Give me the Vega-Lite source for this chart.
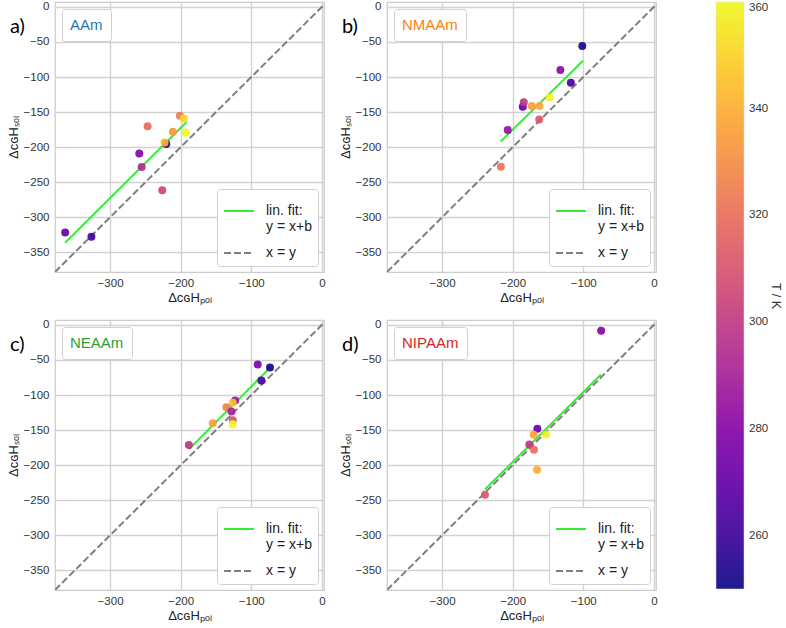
{
  "$schema": "https://vega.github.io/schema/vega-lite/v6.json",
  "background": "white",
  "padding": {"left": 6, "top": 0, "right": 0, "bottom": 0},
  "datasets": {
    "pts": [
      {"panel": "a", "poly": "AAm", "X": -363.6, "Y": -321.5, "T": 272},
      {"panel": "a", "poly": "AAm", "X": -326.4, "Y": -327.6, "T": 261},
      {"panel": "a", "poly": "AAm", "X": -246.8, "Y": -170.0, "T": 318},
      {"panel": "a", "poly": "AAm", "X": -258.6, "Y": -208.9, "T": 280},
      {"panel": "a", "poly": "AAm", "X": -255.3, "Y": -228.4, "T": 294},
      {"panel": "a", "poly": "AAm", "X": -226.1, "Y": -261.6, "T": 305},
      {"panel": "a", "poly": "AAm", "X": -220.4, "Y": -195.6, "T": 255},
      {"panel": "a", "poly": "AAm", "X": -222.8, "Y": -193.3, "T": 342},
      {"panel": "a", "poly": "AAm", "X": -211.0, "Y": -178.0, "T": 333},
      {"panel": "a", "poly": "AAm", "X": -201.1, "Y": -155.3, "T": 324},
      {"panel": "a", "poly": "AAm", "X": -195.5, "Y": -159.0, "T": 350},
      {"panel": "a", "poly": "AAm", "X": -192.7, "Y": -179.0, "T": 360},
      {"panel": "b", "poly": "NMAAm", "X": -101.4, "Y": -55.8, "T": 252},
      {"panel": "b", "poly": "NMAAm", "X": -132.4, "Y": -89.9, "T": 282},
      {"panel": "b", "poly": "NMAAm", "X": -117.6, "Y": -108.3, "T": 263},
      {"panel": "b", "poly": "NMAAm", "X": -147.6, "Y": -129.1, "T": 358},
      {"panel": "b", "poly": "NMAAm", "X": -161.9, "Y": -141.4, "T": 338},
      {"panel": "b", "poly": "NMAAm", "X": -172.9, "Y": -141.4, "T": 335},
      {"panel": "b", "poly": "NMAAm", "X": -185.7, "Y": -142.4, "T": 272},
      {"panel": "b", "poly": "NMAAm", "X": -184.3, "Y": -135.8, "T": 300},
      {"panel": "b", "poly": "NMAAm", "X": -162.4, "Y": -160.4, "T": 312},
      {"panel": "b", "poly": "NMAAm", "X": -207.1, "Y": -175.5, "T": 285},
      {"panel": "b", "poly": "NMAAm", "X": -216.7, "Y": -228.0, "T": 322},
      {"panel": "c", "poly": "NEAAm", "X": -90.9, "Y": -56.5, "T": 277},
      {"panel": "c", "poly": "NEAAm", "X": -73.5, "Y": -60.8, "T": 252},
      {"panel": "c", "poly": "NEAAm", "X": -85.7, "Y": -79.3, "T": 262},
      {"panel": "c", "poly": "NEAAm", "X": -122.9, "Y": -107.8, "T": 285},
      {"panel": "c", "poly": "NEAAm", "X": -126.2, "Y": -111.1, "T": 345},
      {"panel": "c", "poly": "NEAAm", "X": -135.2, "Y": -117.3, "T": 325},
      {"panel": "c", "poly": "NEAAm", "X": -128.1, "Y": -123.5, "T": 290},
      {"panel": "c", "poly": "NEAAm", "X": -126.2, "Y": -135.8, "T": 310},
      {"panel": "c", "poly": "NEAAm", "X": -126.2, "Y": -141.5, "T": 360},
      {"panel": "c", "poly": "NEAAm", "X": -154.5, "Y": -140.1, "T": 335},
      {"panel": "c", "poly": "NEAAm", "X": -188.4, "Y": -171.4, "T": 298},
      {"panel": "d", "poly": "NIPAAm", "X": -74.7, "Y": -8.5, "T": 280},
      {"panel": "d", "poly": "NIPAAm", "X": -165.0, "Y": -148.1, "T": 272},
      {"panel": "d", "poly": "NIPAAm", "X": -152.6, "Y": -156.2, "T": 358},
      {"panel": "d", "poly": "NIPAAm", "X": -170.2, "Y": -156.7, "T": 338},
      {"panel": "d", "poly": "NIPAAm", "X": -176.4, "Y": -170.5, "T": 298},
      {"panel": "d", "poly": "NIPAAm", "X": -169.8, "Y": -178.0, "T": 320},
      {"panel": "d", "poly": "NIPAAm", "X": -165.5, "Y": -206.5, "T": 340},
      {"panel": "d", "poly": "NIPAAm", "X": -239.2, "Y": -242.2, "T": 312}
    ],
    "lines": [
      {"panel": "a", "series": "x = y", "X": -378, "Y": -378},
      {"panel": "a", "series": "x = y", "X": 7, "Y": 7},
      {"panel": "a", "series": "lin. fit:|y = x+b", "X": -363.6, "Y": -336.2},
      {"panel": "a", "series": "lin. fit:|y = x+b", "X": -191.7, "Y": -164.3},
      {"panel": "b", "series": "x = y", "X": -378, "Y": -378},
      {"panel": "b", "series": "x = y", "X": 7, "Y": 7},
      {"panel": "b", "series": "lin. fit:|y = x+b", "X": -217.1, "Y": -192.0},
      {"panel": "b", "series": "lin. fit:|y = x+b", "X": -100.5, "Y": -77.0},
      {"panel": "c", "series": "x = y", "X": -378, "Y": -378},
      {"panel": "c", "series": "x = y", "X": 7, "Y": 7},
      {"panel": "c", "series": "lin. fit:|y = x+b", "X": -188.4, "Y": -177.5},
      {"panel": "c", "series": "lin. fit:|y = x+b", "X": -73.5, "Y": -61.0},
      {"panel": "d", "series": "x = y", "X": -378, "Y": -378},
      {"panel": "d", "series": "x = y", "X": 7, "Y": 7},
      {"panel": "d", "series": "lin. fit:|y = x+b", "X": -239.2, "Y": -234.5},
      {"panel": "d", "series": "lin. fit:|y = x+b", "X": -75.1, "Y": -71.0}
    ]
  },
  "config": {
    "font": "Liberation Sans",
    "view": {"stroke": "#cccccc", "strokeWidth": 1.25},
    "axis": {
      "grid": true, "gridColor": "#d2d2d2", "gridWidth": 1.4,
      "domain": false, "ticks": false, "labelOverlap": false, "labelBound": false,
      "labelFontSize": 11.5, "labelColor": "#333333", "labelFont": "Liberation Sans",
      "titleFontSize": 13, "titleFontWeight": "normal", "titleColor": "#222222", "titleFont": "Liberation Sans"
    },
    "axisX": {"labelPadding": 5, "titlePadding": 3},
    "axisY": {"labelPadding": 6, "titlePadding": 3},
    "title": {"anchor": "start", "frame": "group", "offset": 0, "dx": -45, "dy": 40, "fontSize": 20, "font": "Lato", "fontWeight": "normal", "color": "#000000"}
  },
  "columns": 2,
  "spacing": {"row": 48, "column": 63},
  "bounds": "flush",
  "resolve": {
    "scale": {"color": "shared", "shape": "independent", "stroke": "shared", "strokeDash": "shared"},
    "legend": {"color": "shared", "shape": "independent", "stroke": "independent", "strokeDash": "independent"}
  },
  "concat": [
    {
      "width": 269, "height": 270,
      "title": "a)",
      "layer": [
        {
          "data": {"name": "lines"}, "transform": [{"filter": "datum.panel == 'a'"}],
          "mark": {"type": "line", "clip": true, "strokeWidth": 2},
          "encoding": {
            "x": {"field": "X", "type": "quantitative", "scale": {"domain": [-378, 3], "nice": false, "zero": false}, "axis": {"values": [-300, -200, -100, 0], "tickCount": 10, "title": "ΔᴄɢHₚₒₗ"}},
            "y": {"field": "Y", "type": "quantitative", "scale": {"domain": [-378, 7], "nice": false, "zero": false}, "axis": {"values": [-350, -300, -250, -200, -150, -100, -50, 0], "tickCount": 10, "title": "ΔᴄɢHₛₒₗ"}},
            "stroke": {"field": "series", "type": "nominal", "scale": {"domain": ["lin. fit:|y = x+b", "x = y"], "range": ["#33ee33", "#7f7f7f"]},
              "legend": {"title": null, "orient": "bottom-right", "offset": 6, "fillColor": "white", "strokeColor": "#d0d0d0", "cornerRadius": 3, "padding": 6, "symbolType": "stroke", "symbolSize": 900, "symbolStrokeWidth": 2, "labelFontSize": 14, "labelColor": "#222222", "labelOffset": 11, "rowPadding": 3, "labelExpr": "split(datum.label, '|')", "labelLimit": 200, "encode": {"labels": {"dy": {"condition": {"test": "datum.value === 'x = y'", "value": 0}, "value": -9}, "lineHeight": {"value": 17}}}}},
            "strokeDash": {"field": "series", "type": "nominal", "scale": {"domain": ["lin. fit:|y = x+b", "x = y"], "range": [[1, 0], [7, 3]]},
              "legend": {"title": null, "orient": "bottom-right", "offset": 6, "fillColor": "white", "strokeColor": "#d0d0d0", "cornerRadius": 3, "padding": 6, "symbolType": "stroke", "symbolSize": 900, "symbolStrokeWidth": 2, "labelFontSize": 14, "labelColor": "#222222", "labelOffset": 11, "rowPadding": 3, "labelExpr": "split(datum.label, '|')", "labelLimit": 200, "encode": {"labels": {"dy": {"condition": {"test": "datum.value === 'x = y'", "value": 0}, "value": -9}, "lineHeight": {"value": 17}}}}}
          }
        },
        {
          "data": {"name": "pts"}, "transform": [{"filter": "datum.panel == 'a'"}],
          "mark": {"type": "point", "filled": true, "size": 64, "opacity": 0.92},
          "encoding": {
            "x": {"field": "X", "type": "quantitative"},
            "y": {"field": "Y", "type": "quantitative"},
            "color": {"field": "T", "type": "quantitative", "scale": {"scheme": "plasma", "domain": [250, 360]},
              "legend": {"title": "T / K", "orient": "right", "offset": 58, "direction": "vertical", "gradientLength": 587, "gradientThickness": 28, "values": [260, 280, 300, 320, 340, 360], "labelFontSize": 11.5, "labelColor": "#333333", "labelOffset": 5, "titleOrient": "right", "titlePadding": 1, "titleAngle": 270, "titleAnchor": "middle", "titleFontSize": 12.5, "titleFontWeight": "normal", "titleColor": "#333333", "gradientStrokeColor": "#dddddd", "gradientStrokeWidth": 0.5}},
            "shape": {"field": "poly", "type": "nominal", "scale": {"range": ["circle"]},
              "legend": {"title": null, "orient": "top-left", "offset": 7, "fillColor": "white", "strokeColor": "#d0d0d0", "cornerRadius": 3, "padding": 8, "symbolSize": 0, "symbolOpacity": 0, "symbolStrokeWidth": 0, "columnPadding": 0, "labelOffset": -15, "labelFontSize": 15, "labelColor": "#1f77b4"}}
          }
        }
      ]
    },
    {
      "width": 269, "height": 270,
      "title": "b)",
      "layer": [
        {
          "data": {"name": "lines"}, "transform": [{"filter": "datum.panel == 'b'"}],
          "mark": {"type": "line", "clip": true, "strokeWidth": 2},
          "encoding": {
            "x": {"field": "X", "type": "quantitative", "scale": {"domain": [-378, 3], "nice": false, "zero": false}, "axis": {"values": [-300, -200, -100, 0], "tickCount": 10, "title": "ΔᴄɢHₚₒₗ"}},
            "y": {"field": "Y", "type": "quantitative", "scale": {"domain": [-378, 7], "nice": false, "zero": false}, "axis": {"values": [-350, -300, -250, -200, -150, -100, -50, 0], "tickCount": 10, "title": "ΔᴄɢHₛₒₗ"}},
            "stroke": {"field": "series", "type": "nominal", "scale": {"domain": ["lin. fit:|y = x+b", "x = y"], "range": ["#33ee33", "#7f7f7f"]},
              "legend": {"title": null, "orient": "bottom-right", "offset": 6, "fillColor": "white", "strokeColor": "#d0d0d0", "cornerRadius": 3, "padding": 6, "symbolType": "stroke", "symbolSize": 900, "symbolStrokeWidth": 2, "labelFontSize": 14, "labelColor": "#222222", "labelOffset": 11, "rowPadding": 3, "labelExpr": "split(datum.label, '|')", "labelLimit": 200, "encode": {"labels": {"dy": {"condition": {"test": "datum.value === 'x = y'", "value": 0}, "value": -9}, "lineHeight": {"value": 17}}}}},
            "strokeDash": {"field": "series", "type": "nominal", "scale": {"domain": ["lin. fit:|y = x+b", "x = y"], "range": [[1, 0], [7, 3]]},
              "legend": {"title": null, "orient": "bottom-right", "offset": 6, "fillColor": "white", "strokeColor": "#d0d0d0", "cornerRadius": 3, "padding": 6, "symbolType": "stroke", "symbolSize": 900, "symbolStrokeWidth": 2, "labelFontSize": 14, "labelColor": "#222222", "labelOffset": 11, "rowPadding": 3, "labelExpr": "split(datum.label, '|')", "labelLimit": 200, "encode": {"labels": {"dy": {"condition": {"test": "datum.value === 'x = y'", "value": 0}, "value": -9}, "lineHeight": {"value": 17}}}}}
          }
        },
        {
          "data": {"name": "pts"}, "transform": [{"filter": "datum.panel == 'b'"}],
          "mark": {"type": "point", "filled": true, "size": 64, "opacity": 0.92},
          "encoding": {
            "x": {"field": "X", "type": "quantitative"},
            "y": {"field": "Y", "type": "quantitative"},
            "color": {"field": "T", "type": "quantitative", "scale": {"scheme": "plasma", "domain": [250, 360]}},
            "shape": {"field": "poly", "type": "nominal", "scale": {"range": ["circle"]},
              "legend": {"title": null, "orient": "top-left", "offset": 7, "fillColor": "white", "strokeColor": "#d0d0d0", "cornerRadius": 3, "padding": 8, "symbolSize": 0, "symbolOpacity": 0, "symbolStrokeWidth": 0, "columnPadding": 0, "labelOffset": -15, "labelFontSize": 15, "labelColor": "#ff7f0e"}}
          }
        }
      ]
    },
    {
      "width": 269, "height": 270,
      "title": "c)",
      "layer": [
        {
          "data": {"name": "lines"}, "transform": [{"filter": "datum.panel == 'c'"}],
          "mark": {"type": "line", "clip": true, "strokeWidth": 2},
          "encoding": {
            "x": {"field": "X", "type": "quantitative", "scale": {"domain": [-378, 3], "nice": false, "zero": false}, "axis": {"values": [-300, -200, -100, 0], "tickCount": 10, "title": "ΔᴄɢHₚₒₗ"}},
            "y": {"field": "Y", "type": "quantitative", "scale": {"domain": [-378, 7], "nice": false, "zero": false}, "axis": {"values": [-350, -300, -250, -200, -150, -100, -50, 0], "tickCount": 10, "title": "ΔᴄɢHₛₒₗ"}},
            "stroke": {"field": "series", "type": "nominal", "scale": {"domain": ["lin. fit:|y = x+b", "x = y"], "range": ["#33ee33", "#7f7f7f"]},
              "legend": {"title": null, "orient": "bottom-right", "offset": 6, "fillColor": "white", "strokeColor": "#d0d0d0", "cornerRadius": 3, "padding": 6, "symbolType": "stroke", "symbolSize": 900, "symbolStrokeWidth": 2, "labelFontSize": 14, "labelColor": "#222222", "labelOffset": 11, "rowPadding": 3, "labelExpr": "split(datum.label, '|')", "labelLimit": 200, "encode": {"labels": {"dy": {"condition": {"test": "datum.value === 'x = y'", "value": 0}, "value": -9}, "lineHeight": {"value": 17}}}}},
            "strokeDash": {"field": "series", "type": "nominal", "scale": {"domain": ["lin. fit:|y = x+b", "x = y"], "range": [[1, 0], [7, 3]]},
              "legend": {"title": null, "orient": "bottom-right", "offset": 6, "fillColor": "white", "strokeColor": "#d0d0d0", "cornerRadius": 3, "padding": 6, "symbolType": "stroke", "symbolSize": 900, "symbolStrokeWidth": 2, "labelFontSize": 14, "labelColor": "#222222", "labelOffset": 11, "rowPadding": 3, "labelExpr": "split(datum.label, '|')", "labelLimit": 200, "encode": {"labels": {"dy": {"condition": {"test": "datum.value === 'x = y'", "value": 0}, "value": -9}, "lineHeight": {"value": 17}}}}}
          }
        },
        {
          "data": {"name": "pts"}, "transform": [{"filter": "datum.panel == 'c'"}],
          "mark": {"type": "point", "filled": true, "size": 64, "opacity": 0.92},
          "encoding": {
            "x": {"field": "X", "type": "quantitative"},
            "y": {"field": "Y", "type": "quantitative"},
            "color": {"field": "T", "type": "quantitative", "scale": {"scheme": "plasma", "domain": [250, 360]}},
            "shape": {"field": "poly", "type": "nominal", "scale": {"range": ["circle"]},
              "legend": {"title": null, "orient": "top-left", "offset": 7, "fillColor": "white", "strokeColor": "#d0d0d0", "cornerRadius": 3, "padding": 8, "symbolSize": 0, "symbolOpacity": 0, "symbolStrokeWidth": 0, "columnPadding": 0, "labelOffset": -15, "labelFontSize": 15, "labelColor": "#2ca02c"}}
          }
        }
      ]
    },
    {
      "width": 269, "height": 270,
      "title": "d)",
      "layer": [
        {
          "data": {"name": "lines"}, "transform": [{"filter": "datum.panel == 'd'"}],
          "mark": {"type": "line", "clip": true, "strokeWidth": 2},
          "encoding": {
            "x": {"field": "X", "type": "quantitative", "scale": {"domain": [-378, 3], "nice": false, "zero": false}, "axis": {"values": [-300, -200, -100, 0], "tickCount": 10, "title": "ΔᴄɢHₚₒₗ"}},
            "y": {"field": "Y", "type": "quantitative", "scale": {"domain": [-378, 7], "nice": false, "zero": false}, "axis": {"values": [-350, -300, -250, -200, -150, -100, -50, 0], "tickCount": 10, "title": "ΔᴄɢHₛₒₗ"}},
            "stroke": {"field": "series", "type": "nominal", "scale": {"domain": ["lin. fit:|y = x+b", "x = y"], "range": ["#33ee33", "#7f7f7f"]},
              "legend": {"title": null, "orient": "bottom-right", "offset": 6, "fillColor": "white", "strokeColor": "#d0d0d0", "cornerRadius": 3, "padding": 6, "symbolType": "stroke", "symbolSize": 900, "symbolStrokeWidth": 2, "labelFontSize": 14, "labelColor": "#222222", "labelOffset": 11, "rowPadding": 3, "labelExpr": "split(datum.label, '|')", "labelLimit": 200, "encode": {"labels": {"dy": {"condition": {"test": "datum.value === 'x = y'", "value": 0}, "value": -9}, "lineHeight": {"value": 17}}}}},
            "strokeDash": {"field": "series", "type": "nominal", "scale": {"domain": ["lin. fit:|y = x+b", "x = y"], "range": [[1, 0], [7, 3]]},
              "legend": {"title": null, "orient": "bottom-right", "offset": 6, "fillColor": "white", "strokeColor": "#d0d0d0", "cornerRadius": 3, "padding": 6, "symbolType": "stroke", "symbolSize": 900, "symbolStrokeWidth": 2, "labelFontSize": 14, "labelColor": "#222222", "labelOffset": 11, "rowPadding": 3, "labelExpr": "split(datum.label, '|')", "labelLimit": 200, "encode": {"labels": {"dy": {"condition": {"test": "datum.value === 'x = y'", "value": 0}, "value": -9}, "lineHeight": {"value": 17}}}}}
          }
        },
        {
          "data": {"name": "pts"}, "transform": [{"filter": "datum.panel == 'd'"}],
          "mark": {"type": "point", "filled": true, "size": 64, "opacity": 0.92},
          "encoding": {
            "x": {"field": "X", "type": "quantitative"},
            "y": {"field": "Y", "type": "quantitative"},
            "color": {"field": "T", "type": "quantitative", "scale": {"scheme": "plasma", "domain": [250, 360]}},
            "shape": {"field": "poly", "type": "nominal", "scale": {"range": ["circle"]},
              "legend": {"title": null, "orient": "top-left", "offset": 7, "fillColor": "white", "strokeColor": "#d0d0d0", "cornerRadius": 3, "padding": 8, "symbolSize": 0, "symbolOpacity": 0, "symbolStrokeWidth": 0, "columnPadding": 0, "labelOffset": -15, "labelFontSize": 15, "labelColor": "#d62728"}}
          }
        }
      ]
    }
  ]
}
